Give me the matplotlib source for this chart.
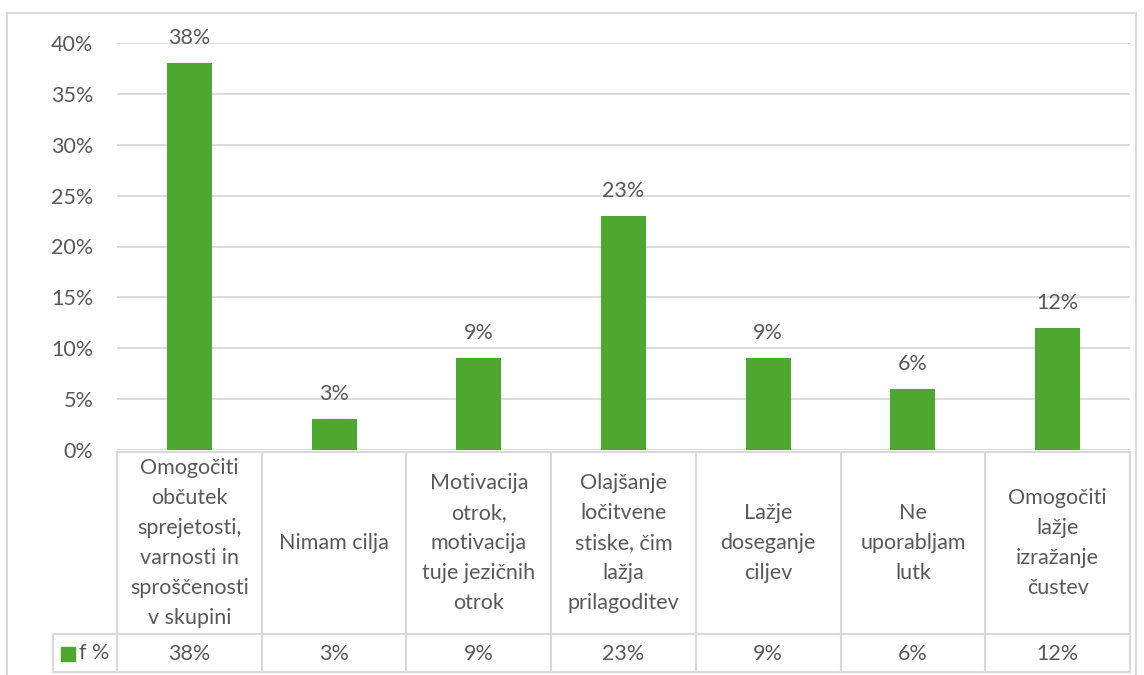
import matplotlib.pyplot as plt
from matplotlib.lines import Line2D
from matplotlib.transforms import blended_transform_factory

# podatki
categories = [
    "Omogočiti\nobčutek\nsprejetosti,\nvarnosti in\nsproščenosti\nv skupini",
    "Nimam cilja",
    "Motivacija\notrok,\nmotivacija\ntuje jezičnih\notrok",
    "Olajšanje\nločitvene\nstiske, čim\nlažja\nprilagoditev",
    "Lažje\ndoseganje\nciljev",
    "Ne\nuporabljam\nlutk",
    "Omogočiti\nlažje\nizražanje\nčustev",
]
values = [38, 3, 9, 23, 9, 6, 12]
series_name = "f %"

green = "#4ea72e"
txt = "#595959"
grid = "#d9d9d9"
fs = 15.5

plt.rcParams["font.family"] = ["Lato", "DejaVu Sans"]

W, H = 1144, 675
fig = plt.figure(figsize=(W / 100, H / 100), dpi=100)
ax = fig.add_axes([117 / W, 1 - 450 / H, (1130 - 117) / W, (450 - 43) / H])

x = list(range(len(values)))
ax.bar(x, values, width=0.31, color=green, zorder=3)
for xi, v in zip(x, values):
    ax.text(xi, v + 1.5, f"{v}%", ha="center", va="bottom", fontsize=fs, color=txt)

ax.set_xlim(-0.5, len(values) - 0.5)
ax.set_ylim(0, 40)
ax.set_yticks(range(0, 41, 5))
ax.set_yticklabels([f"{t}%" for t in range(0, 41, 5)])
ax.tick_params(axis="y", length=0, labelsize=fs, labelcolor=txt, pad=17)
ax.set_xticks([])
ax.grid(axis="y", color=grid, linewidth=1.3, zorder=0)
for s in ax.spines.values():
    s.set_visible(False)

# tabela s podatki pod grafom
tr = blended_transform_factory(ax.transData, fig.transFigure)
ftr = fig.transFigure


def fy(py):
    return 1 - py / H


def fx(px):
    return px / W


lw = 1.5
n = len(values)
# horizontalne crte
fig.add_artist(Line2D([fx(117), fx(1130)], [fy(452), fy(452)], color=grid, lw=lw, transform=ftr))
fig.add_artist(Line2D([fx(53), fx(1130)], [fy(634), fy(634)], color=grid, lw=lw, transform=ftr))
fig.add_artist(Line2D([fx(53), fx(1130)], [fy(672), fy(672)], color=grid, lw=lw, transform=ftr))
fig.add_artist(Line2D([fx(53), fx(53)], [fy(634), fy(672)], color=grid, lw=lw, transform=ftr))
for i in range(n + 1):
    fig.add_artist(Line2D([i - 0.5, i - 0.5], [fy(452), fy(672)], color=grid, lw=lw, transform=tr))

for i, (c, v) in enumerate(zip(categories, values)):
    fig.text(i, fy(543), c, transform=tr, ha="center", va="center",
             fontsize=fs, color=txt, linespacing=1.62, multialignment="center")
    fig.text(i, fy(654), f"{v}%", transform=tr, ha="center", va="center",
             fontsize=fs, color=txt)

# legenda v tabeli
fig.patches.append(plt.Rectangle((fx(61), fy(661)), fx(14), 14 / H, color=green, transform=ftr))
fig.text(fx(79), fy(653), series_name, ha="left", va="center", fontsize=fs, color=txt)

# okvir grafa
fig.add_artist(Line2D([fx(7), fx(1136), fx(1136)], [fy(13), fy(13), fy(675)], color=grid, lw=lw, transform=ftr))
fig.add_artist(Line2D([fx(7), fx(7)], [fy(13), fy(675)], color=grid, lw=lw, transform=ftr))

fig.savefig("out.png", dpi=100)
